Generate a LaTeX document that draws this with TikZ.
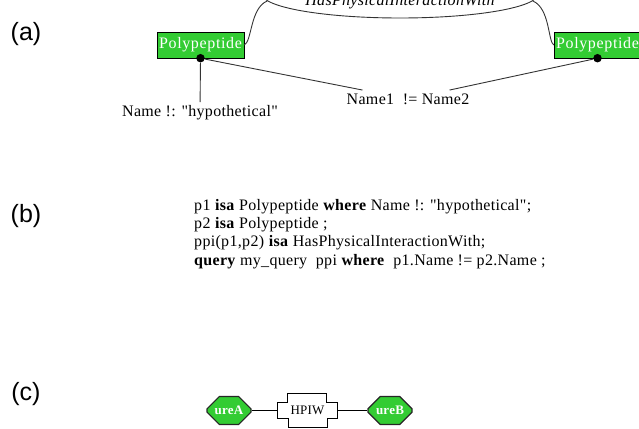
\documentclass[tikz,border=0pt]{standalone}
\usepackage{fontspec}
\setmainfont{Liberation Serif}[Ligatures=TeXOff, LetterSpace=2]
\newfontfamily\panelfont{Liberation Sans}
\usepackage{xcolor}
\usetikzlibrary{shapes.geometric,shapes.misc}
\definecolor{protgreen}{RGB}{51,204,51}

\begin{document}
\begin{tikzpicture}[x=1pt, y=-1pt,
  entity/.style = {draw, fill=protgreen, text=white, minimum width=87pt, minimum height=26pt, inner sep=0pt, font=\fontsize{16}{18}\selectfont\addfontfeature{LetterSpace=4}},
  gene/.style = {draw=black!85, line width=1.2pt, fill=protgreen, chamfered rectangle, chamfered rectangle xsep=8pt, chamfered rectangle ysep=8pt, minimum width=44pt, minimum height=28pt, inner sep=0pt, text=white, font=\fontsize{13}{13}\selectfont\bfseries},
  dot/.style = {circle, fill, inner sep=0pt, minimum size=8.5pt},
  panel/.style = {font=\panelfont\fontsize{25}{25}\selectfont},
  link/.style = {draw=black!80, line width=0.9pt},
  txt/.style = {font=\fontsize{16}{18}\selectfont}]
\useasboundingbox (0,0) rectangle (639,428);
\clip (0,0) rectangle (639,428);

% (a) graph of the query
\node[panel] (pa) at (26,34) {(a)};
\node[entity] (pp1) at (200.5,45) {Polypeptide};
\node[entity] (pp2) at (597.5,45) {Polypeptide};
\node[link, ellipse, minimum width=276pt, minimum height=48pt] (rel) at (400,-6) {};
\node[txt, font=\fontsize{16}{18}\selectfont\itshape] (relname) at (400,2) {HasPhysicalInteractionWith};
\draw[link] (pp1.east) .. controls (252,42) and (250,8) .. (rel.183);
\draw[link] (rel.357) .. controls (550,8) and (548,42) .. (pp2.west);
\node[dot] (d1) at (pp1.south) {};
\node[dot] (d2) at (pp2.south) {};
\node[txt] (hyp) at (200,113) {Name !: "hypothetical"};
\node[txt, inner xsep=10pt] (neq) at (408,99) {Name1\ \ != Name2};
\draw[link] (d1) -- (hyp);
\draw[link] (d1) -- (neq);
\draw[link] (neq) -- (d2);

% (b) query text
\node[panel] (pb) at (26,216) {(b)};
\node[txt, anchor=north west, align=left, inner sep=0pt, font=\fontsize{16}{18.3}\selectfont] (query) at (194,199)
  {p1 \textbf{isa} Polypeptide \textbf{where} Name !: "hypothetical";\\
   p2 \textbf{isa} Polypeptide ;\\
   ppi(p1,p2) \textbf{isa} HasPhysicalInteractionWith;\\
   \textbf{query} my\_query\ \ ppi \textbf{where}\ \ p1.Name != p2.Name ;};

% (c) result
\node[panel] (pc) at (26,394) {(c)};
\node[gene] (ureA) at (229,410.5) {ureA};
\node[minimum width=59pt, minimum height=15pt, inner sep=0pt, font=\fontsize{13}{13}\selectfont] (hpiw) at (307.5,410.5) {HPIW};
\draw[line width=1.1pt] (hpiw.north west) -- ++(10,0) -- ++(0,-9) -- ++(39,0) -- ++(0,9) -- (hpiw.north east)
  -- (hpiw.south east) -- ++(-10,0) -- ++(0,9) -- ++(-39,0) -- ++(0,-9) -- (hpiw.south west) -- cycle;
\node[gene] (ureB) at (390,410.5) {ureB};
\draw[line width=1.1pt] (ureA.east) -- (hpiw.west);
\draw[line width=1.1pt] (hpiw.east) -- (ureB.west);
\end{tikzpicture}
\end{document}
